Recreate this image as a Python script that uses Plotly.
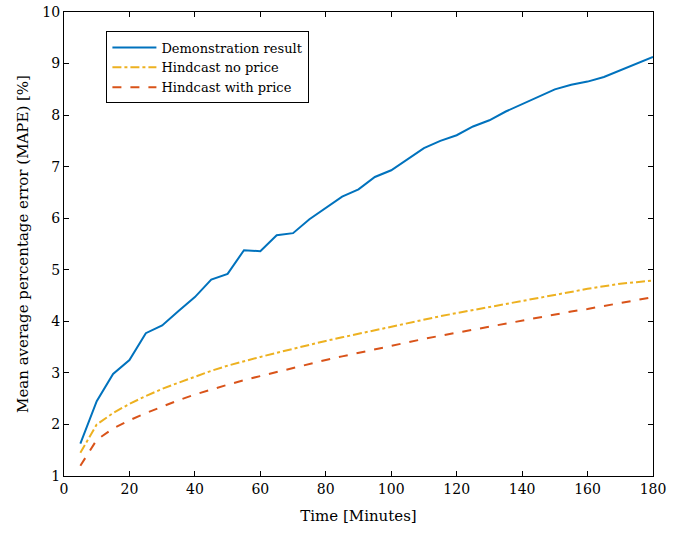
import plotly.graph_objects as go

minutes = list(range(5, 181, 5))
demo = [1.63, 2.45, 2.98, 3.25, 3.77, 3.92, 4.2, 4.47, 4.81, 4.92, 5.38, 5.36,
        5.67, 5.71, 5.98, 6.2, 6.42, 6.56, 6.8, 6.93, 7.15, 7.36, 7.5, 7.61,
        7.78, 7.9, 8.07, 8.21, 8.36, 8.5, 8.59, 8.65, 8.74, 8.87, 9.0, 9.13]
no_price = [1.45, 2.0, 2.22, 2.4, 2.55, 2.69, 2.81, 2.93, 3.04, 3.14, 3.23, 3.31,
            3.39, 3.47, 3.55, 3.62, 3.69, 3.76, 3.83, 3.9, 3.97, 4.04, 4.1, 4.16,
            4.22, 4.28, 4.34, 4.4, 4.46, 4.52, 4.57, 4.63, 4.68, 4.73, 4.76, 4.79]
with_price = [1.2, 1.7, 1.92, 2.08, 2.22, 2.35, 2.47, 2.58, 2.68, 2.77, 2.86, 2.94,
              3.02, 3.1, 3.18, 3.25, 3.32, 3.39, 3.46, 3.53, 3.59, 3.66, 3.72, 3.78,
              3.84, 3.9, 3.96, 4.01, 4.07, 4.13, 4.19, 4.24, 4.3, 4.36, 4.41, 4.47]

FONT = "DejaVu Serif, Liberation Serif, serif"

fig = go.Figure()
fig.add_trace(go.Scatter(x=minutes, y=demo, mode="lines", name="Demonstration result",
                         line=dict(color="#0072BD", width=2)))
fig.add_trace(go.Scatter(x=minutes, y=no_price, mode="lines", name="Hindcast no price",
                         line=dict(color="#EDB120", width=2, dash="dashdot")))
fig.add_trace(go.Scatter(x=minutes, y=with_price, mode="lines", name="Hindcast with price",
                         line=dict(color="#D95319", width=2, dash="dash")))

axis_common = dict(showline=True, linecolor="black", linewidth=1, mirror="ticks",
                   ticks="inside", ticklen=5, tickcolor="black", showgrid=False,
                   zeroline=False, automargin=False,
                   tickfont=dict(family=FONT, size=14, color="black"))

fig.update_layout(
    width=681, height=533,
    margin=dict(l=64, r=28, t=12, b=57, autoexpand=False),
    paper_bgcolor="white", plot_bgcolor="white",
    font=dict(family=FONT, size=14, color="black"),
    xaxis=dict(range=[0, 180], dtick=20,
               title=dict(text="Time [Minutes]", font=dict(family=FONT, size=15), standoff=14),
               **axis_common),
    yaxis=dict(range=[1, 10], dtick=1,
               title=dict(text="Mean average percentage error (MAPE) [%]",
                          font=dict(family=FONT, size=15), standoff=10),
               **axis_common),
    legend=dict(x=0.072, y=0.958, xanchor="left", yanchor="top",
                bgcolor="white", bordercolor="black", borderwidth=1,
                font=dict(family=FONT, size=13), itemwidth=44,
                tracegroupgap=0),
    showlegend=True,
)

fig.write_html("out.html")
